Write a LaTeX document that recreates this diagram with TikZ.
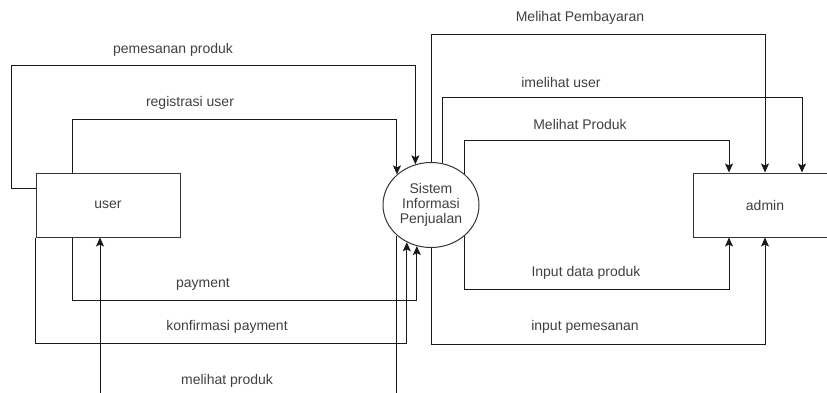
\documentclass[tikz,border=0pt]{standalone}
\usepackage{fontspec}
\setmainfont{Liberation Sans}
\usepackage{tikz}
\usetikzlibrary{shapes, arrows.meta}
\usepackage{xcolor}

\begin{document}
\begin{tikzpicture}[x=1pt, y=-1pt, line width=1pt,
		flow/.style={draw=black!90, -{Stealth[length=9pt, width=8pt, inset=2pt]}},
		entity/.style={draw=black!80, rectangle, minimum width=144pt, minimum height=64pt, fill=white},
		process/.style={draw=black!80, ellipse, minimum width=96pt, minimum height=85pt, inner sep=0pt, fill=white, align=center}]
		\tikzstyle{every node}=[font=\fontsize{14}{15}\selectfont, text=black!75]
		\useasboundingbox (0,0) rectangle (827,392);
		% entitas dan proses
		\node[entity] (user) at (108,205) {user};
		\node[entity] (admin) at (765,205) {admin};
		\node[process] (sip) at (431,205) {Sistem\\Informasi\\Penjualan};
		% alur user
		\draw[flow] (user.north west) ++(0,16) -- ++(-24,0) -- ++(0,-123) -| (sip.111.8);
		\draw[flow] (user.north) ++(-36,0) -- ++(0,-53) -| (sip.138.6);
		\draw[flow] (user.south) ++(-36,0) -- ++(0,63) -| (sip.-109);
		\draw[flow] (user.south west) -- ++(0,106) -| (sip.-123.1);
		\draw[flow] (sip.-138.6) -- ++(0,190) -| ([xshift=-8pt]user.south);
		% alur admin
		\draw[flow] (sip.north) -- ++(0,-128) -| (admin.north);
		\draw[flow] (sip.75.1) -- ++(0,-66) -| ([xshift=37pt]admin.north);
		\draw[flow] (sip.43.1) -- ++(0,-33) -| ([xshift=-36pt]admin.north);
		\draw[flow] (sip.-43.1) -- ++(0,53) -| ([xshift=-36pt]admin.south);
		\draw[flow] (sip.south) -- ++(0,96) -| (admin.south);
		% label
		\node (lPesan) at (173,50) {pemesanan produk};
		\node (lRegis) at (190,103) {registrasi user};
		\node (lPay) at (203,284) {payment};
		\node (lKonf) at (227,327) {konfirmasi payment};
		\node (lLihat) at (227,381) {melihat produk};
		\node (lBayar) at (580,18) {Melihat Pembayaran};
		\node (lUser) at (561,82) {imelihat user};
		\node (lProduk) at (580,124) {Melihat Produk};
		\node (lInput) at (586,273) {Input data produk};
		\node (lInPesan) at (585,327) {input pemesanan};
	\end{tikzpicture}
\end{document}
